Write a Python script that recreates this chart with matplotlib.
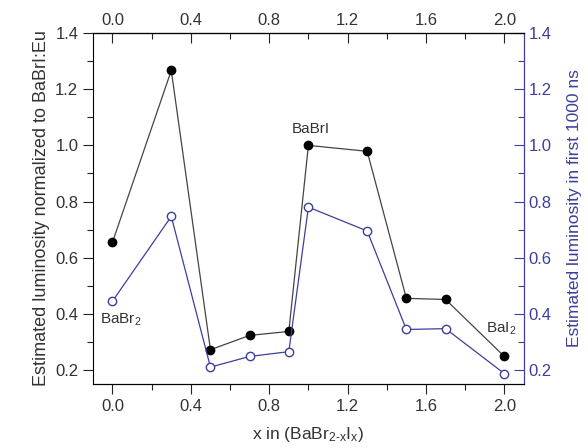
import matplotlib
matplotlib.use("Agg")
import matplotlib.pyplot as plt
from matplotlib.ticker import MultipleLocator

plt.rcParams["font.family"] = ["Liberation Sans", "DejaVu Sans"]
plt.rcParams["mathtext.fontset"] = "custom"
plt.rcParams["mathtext.rm"] = "Liberation Sans"
plt.rcParams["mathtext.it"] = "Liberation Sans"

x_vals = [0.0, 0.3, 0.5, 0.7, 0.9, 1.0, 1.3, 1.5, 1.7, 2.0]
lum_norm = [0.655, 1.267, 0.272, 0.323, 0.337, 1.000, 0.979, 0.455, 0.451, 0.248]
lum_1000ns = [0.445, 0.747, 0.210, 0.248, 0.265, 0.780, 0.695, 0.344, 0.347, 0.187]

BLUE = "#3c3f9c"
TXT = "#333333"

fig = plt.figure(figsize=(5.88, 4.48), dpi=100)
ax = fig.add_axes([0.158, 0.143, 0.733, 0.783])
ax2 = ax.twinx()

ax.plot(x_vals, lum_norm, color="#444444", lw=0.9, marker="o", ms=6,
        mfc="black", mec="black", zorder=3)
ax2.plot(x_vals, lum_1000ns, color=BLUE, lw=0.9, marker="o", ms=6,
         mfc="white", mec=BLUE, mew=1.0, zorder=3)

for a in (ax, ax2):
    a.set_xlim(-0.1, 2.1)
    a.set_ylim(0.15, 1.4)
    a.yaxis.set_major_locator(MultipleLocator(0.2))
    a.yaxis.set_minor_locator(MultipleLocator(0.1))
ax.xaxis.set_major_locator(MultipleLocator(0.4))
ax.xaxis.set_minor_locator(MultipleLocator(0.2))
ax.set_yticks([0.2, 0.4, 0.6, 0.8, 1.0, 1.2, 1.4])
ax2.set_yticks([0.2, 0.4, 0.6, 0.8, 1.0, 1.2, 1.4])

ax.tick_params(axis="both", which="major", labelsize=12, length=7, width=0.8,
               colors="#222222", labelcolor=TXT)
ax.tick_params(axis="both", which="minor", length=4, width=0.8, colors="#222222")
ax.tick_params(axis="x", which="both", direction="out", top=False)
ax.tick_params(axis="y", which="both", direction="out")

# top axis mirrors the bottom one
axt = ax.secondary_xaxis("top")
axt.xaxis.set_major_locator(MultipleLocator(0.4))
axt.xaxis.set_minor_locator(MultipleLocator(0.2))
axt.tick_params(which="major", direction="in", length=7, width=0.8,
                labelsize=12, colors="#222222", labelcolor=TXT)
axt.tick_params(which="minor", direction="in", length=4, width=0.8, colors="#222222")
axt.xaxis.set_major_formatter(plt.FuncFormatter(lambda v, p: f"{v:.1f}"))

ax2.tick_params(axis="y", which="major", direction="in", length=7, width=0.8,
                labelsize=12, colors=BLUE, labelcolor=BLUE)
ax2.tick_params(axis="y", which="minor", direction="in", length=4, width=0.8, colors=BLUE)
ax2.spines["right"].set_color(BLUE)
ax2.spines["left"].set_visible(False)
ax2.yaxis.offsetText.set_visible(False)
ax.yaxis.offsetText.set_visible(False)

ax.set_xlabel("x in (BaBr$_{2\u2010\\mathrm{x}}$I$_\\mathrm{x}$)", fontsize=12.5, color=TXT, labelpad=8)
ax.set_ylabel("Estimated luminosity normalized to BaBrI:Eu", fontsize=13, color=TXT, labelpad=4)
ax2.set_ylabel("Estimated luminosity in first 1000 ns", fontsize=12.5, color=BLUE, labelpad=11)

ax.text(-0.065, 0.38, r"BaBr$_2$", fontsize=11, color=TXT, va="center")
ax.text(0.915, 1.06, "BaBrI", fontsize=11, color=TXT, va="center")
ax.text(1.905, 0.345, r"BaI$_2$", fontsize=11, color=TXT, va="center")

for a in (ax, ax2):
    for s in a.spines.values():
        s.set_linewidth(0.8)

fig.savefig("out.png", dpi=100)
